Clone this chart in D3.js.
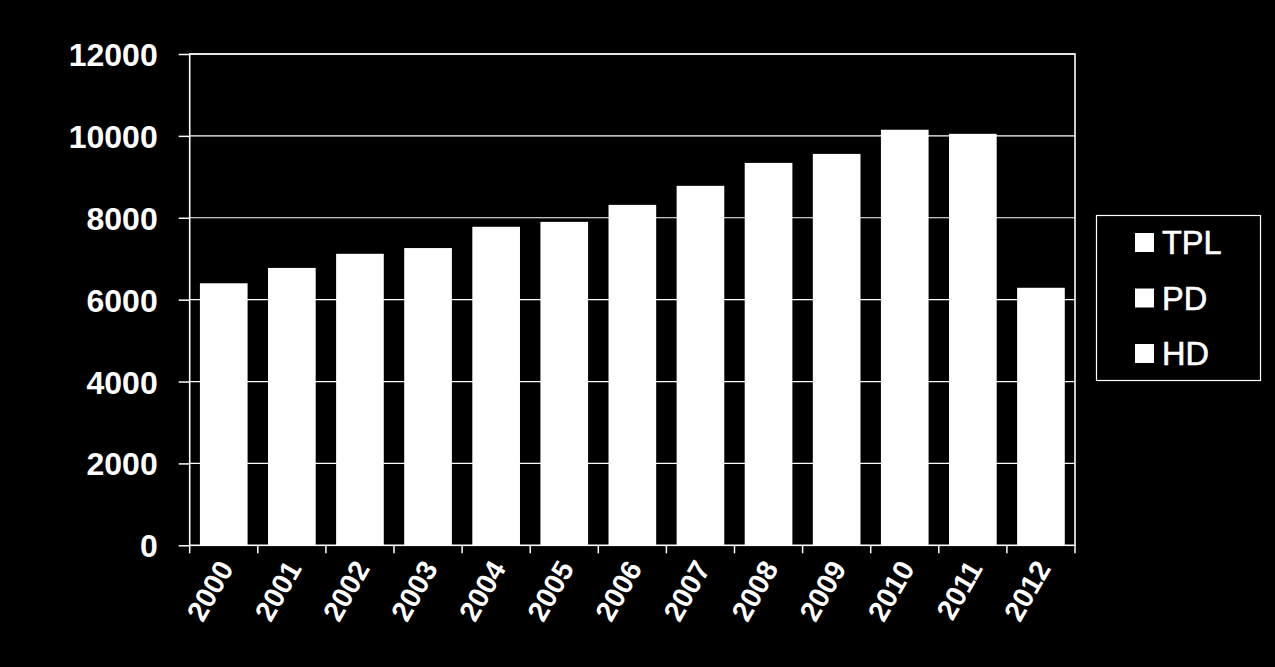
<!DOCTYPE html>
<html>
<head>
<meta charset="utf-8">
<script src="https://cdn.jsdelivr.net/npm/d3@7/dist/d3.min.js"></script>
<style>
html,body{margin:0;padding:0;background:#000;}
svg{display:block;}
text{font-family:"Liberation Sans",Arial,sans-serif;fill:#fff;}
</style>
</head>
<body>
<svg id="chart" width="1275" height="667"></svg>
<script>
const years = ["2000","2001","2002","2003","2004","2005","2006","2007","2008","2009","2010","2011","2012"];
const totals = [6400,6775,7120,7260,7780,7900,8315,8780,9340,9560,10150,10050,6290];
const seriesNames = ["TPL","PD","HD"];
const yTicks = [0,2000,4000,6000,8000,10000,12000];

(function(){
const svg = d3.select("#chart");
const W = 1275, H = 667;
svg.append("rect").attr("width",W).attr("height",H).attr("fill","#000");

const pLeft = 189.7, pRight = 1075, pTop = 54, pBottom = 545.3;
const x = d3.scaleBand().domain(years).range([pLeft,pRight]).paddingInner(0.3).paddingOuter(0.15);
const y = d3.scaleLinear().domain([0,12000]).range([pBottom,pTop]);

// gridlines
svg.append("g").selectAll("line").data(yTicks.filter(d=>d>0)).join("line")
  .attr("x1",pLeft).attr("x2",pRight)
  .attr("y1",d=>y(d)).attr("y2",d=>y(d))
  .attr("stroke","#fff").attr("stroke-width",1.2);

// bars
svg.append("g").selectAll("rect").data(years).join("rect")
  .attr("x",d=>x(d)).attr("width",x.bandwidth())
  .attr("y",(d,i)=>y(totals[i]))
  .attr("height",(d,i)=>pBottom-y(totals[i]))
  .attr("fill","#fff");

// plot border
svg.append("rect").attr("x",pLeft).attr("y",pTop).attr("width",pRight-pLeft).attr("height",pBottom-pTop)
  .attr("fill","none").attr("stroke","#fff").attr("stroke-width",1.6);

// y axis
const yAxis = d3.axisLeft(y).tickValues(yTicks).tickSize(11).tickPadding(21).tickFormat(d3.format("d"));
const gy = svg.append("g").attr("transform",`translate(${pLeft},0)`).call(yAxis);
gy.select(".domain").remove();
gy.selectAll(".tick line").attr("stroke","#fff").attr("stroke-width",1.5);
gy.selectAll(".tick text").attr("font-size",32).attr("font-weight","bold")
  .attr("font-family","'Liberation Sans',Arial,sans-serif").attr("fill","#fff").attr("dy","0.36em");

// x axis (ticks at category boundaries)
const boundaries = d3.range(years.length+1).map(i=>pLeft + i*(pRight-pLeft)/years.length);
svg.append("g").selectAll("line").data(boundaries).join("line")
  .attr("x1",d=>d).attr("x2",d=>d).attr("y1",pBottom).attr("y2",pBottom+8)
  .attr("stroke","#fff").attr("stroke-width",1.5);

svg.append("g").selectAll("text").data(years).join("text")
  .attr("transform",d=>`translate(${x(d)+x.bandwidth()/2+2},${pBottom+18}) rotate(-60)`)
  .attr("text-anchor","end")
  .attr("font-size",28.5).attr("font-weight","bold")
  .attr("dy","0.35em")
  .text(d=>d);

// legend
const lg = svg.append("g");
lg.append("rect").attr("x",1096.5).attr("y",215.5).attr("width",164).attr("height",165)
  .attr("fill","none").attr("stroke","#fff").attr("stroke-width",1.2);
const rows = lg.selectAll("g").data(seriesNames).join("g")
  .attr("transform",(d,i)=>`translate(0,${242.5 + i*55.5})`);
rows.append("rect").attr("x",1135).attr("y",-9.5).attr("width",19).attr("height",19).attr("fill","#fff");
rows.append("text").attr("x",1162).attr("y",0).attr("dy","0.36em")
  .attr("font-size",32.5).attr("stroke","#fff").attr("stroke-width",0.6).text(d=>d);
})();
</script>
</body>
</html>
